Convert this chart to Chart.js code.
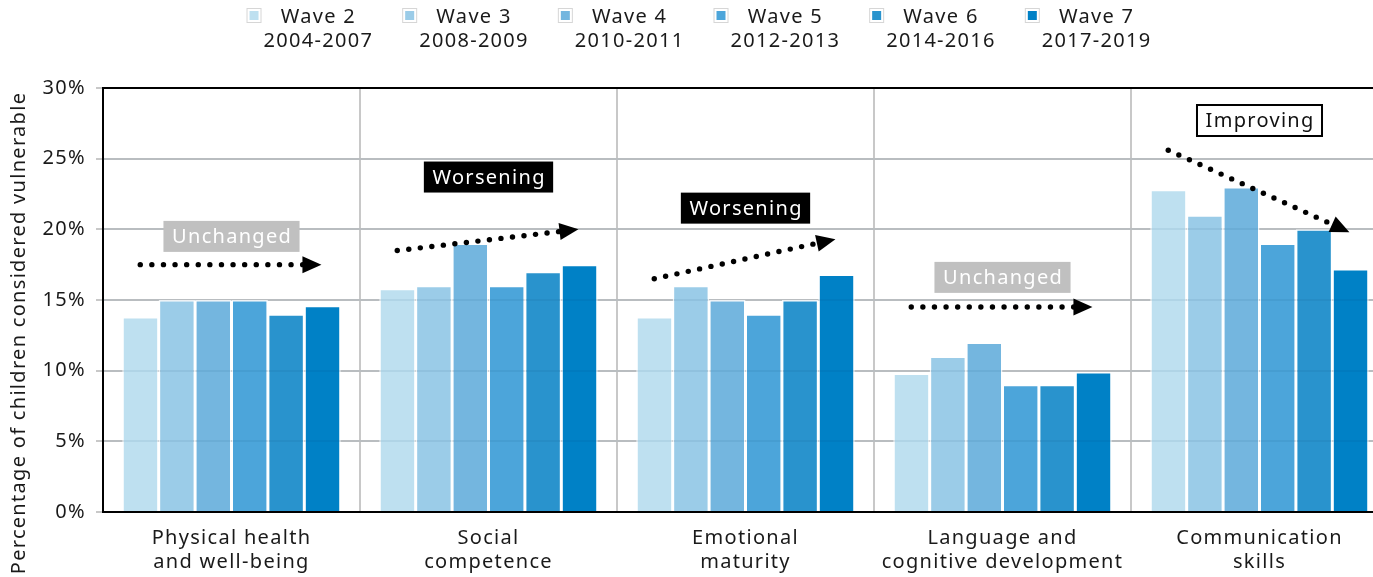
<!DOCTYPE html>
<html>
<head>
<meta charset="utf-8">
<script src="https://cdn.jsdelivr.net/npm/chart.js@4.4.1/dist/chart.umd.min.js"></script>
<style>
  html, body { margin: 0; padding: 0; background: #fff; overflow: hidden; }
  #wrap { position: relative; width: 1390px; height: 577px; }
</style>
</head>
<body>
<div id="wrap"><canvas id="chart"></canvas></div>
<script>
// AEDC-style vulnerability by domain, waves 2-7.

const categories = [
  ['Physical health', 'and well-being'],
  ['Social', 'competence'],
  ['Emotional', 'maturity'],
  ['Language and', 'cognitive development'],
  ['Communication', 'skills']
];
const waveNames = ['Wave 2', 'Wave 3', 'Wave 4', 'Wave 5', 'Wave 6', 'Wave 7'];
const wavePeriods = ['2004-2007', '2008-2009', '2010-2011', '2012-2013', '2014-2016', '2017-2019'];

const wave2 = [13.8, 15.8, 13.8, 9.8, 22.8];
const wave3 = [15.0, 16.0, 16.0, 11.0, 21.0];
const wave4 = [15.0, 19.0, 15.0, 12.0, 23.0];
const wave5 = [15.0, 16.0, 14.0, 9.0, 19.0];
const wave6 = [14.0, 17.0, 15.0, 9.0, 20.0];
const wave7 = [14.6, 17.5, 16.8, 9.9, 17.2];

const yTicks = [0, 5, 10, 15, 20, 25, 30];
const yTitle = 'Percentage of children considered vulnerable';

// trend arrows per domain (values in %)
const trendLabels = ['Unchanged', 'Worsening', 'Worsening', 'Unchanged', 'Improving'];
const trendFrom = [17.5, 18.5, 16.5, 14.5, 25.6];
const trendTo = [17.5, 20.0, 19.3, 14.5, 19.8];
const trendLabelAt = [19.5, 23.7, 21.5, 16.6, 27.7];

const COLORS = ['#bee0f0', '#9bcce8', '#74b6df', '#4ca5da', '#2993cd', '#0081c6'];
const TREND_STYLE = {
  Unchanged: { fill: '#c0c0c0', text: '#ffffff', stroke: null },
  Worsening: { fill: '#000000', text: '#ffffff', stroke: null },
  Improving: { fill: '#ffffff', text: '#111111', stroke: '#000000' }
};
const FONT = '"Noto Sans", "Open Sans", sans-serif';
const SPACING = '1.3px';
const GRID = '#c8c8c8';

const series = [wave2, wave3, wave4, wave5, wave6, wave7];

function drawArrow(ctx, x1, y1, x2, y2) {
  const dx = x2 - x1, dy = y2 - y1;
  const len = Math.sqrt(dx * dx + dy * dy);
  const ux = dx / len, uy = dy / len;
  const head = 19, half = 8.5, step = 11.6;
  ctx.fillStyle = '#000';
  for (let d = 0; d <= len - head + 2; d += step) {
    ctx.beginPath();
    ctx.arc(x1 + ux * d, y1 + uy * d, 2.7, 0, Math.PI * 2);
    ctx.fill();
  }
  const bx = x2 - ux * head, by = y2 - uy * head;
  ctx.beginPath();
  ctx.moveTo(x2, y2);
  ctx.lineTo(bx - uy * half, by + ux * half);
  ctx.lineTo(bx + uy * half, by - ux * half);
  ctx.closePath();
  ctx.fill();
}

const extras = {
  id: 'extras',
  beforeUpdate(chart) { chart.ctx.letterSpacing = SPACING; },
  beforeDraw(chart) { chart.ctx.letterSpacing = SPACING; },
  afterDatasetsDraw(chart) {
    const ctx = chart.ctx, x = chart.scales.x, y = chart.scales.y;
    const cw = (x.right - x.left) / categories.length;
    ctx.save();
    // faint grid showing through the bars
    ctx.strokeStyle = 'rgba(0, 60, 100, 0.07)'; ctx.lineWidth = 2;
    yTicks.slice(1, -1).forEach(v => {
      const py = Math.round(y.getPixelForValue(v));
      ctx.beginPath(); ctx.moveTo(x.left, py); ctx.lineTo(x.right, py); ctx.stroke();
    });
    // trend annotations
    trendLabels.forEach((lab, i) => {
      const cx = x.getPixelForValue(i);
      drawArrow(ctx, cx - 0.355 * cw, y.getPixelForValue(trendFrom[i]),
                cx + 0.35 * cw, y.getPixelForValue(trendTo[i]));
      const st = TREND_STYLE[lab];
      ctx.font = '20px ' + FONT;
      const tw = ctx.measureText(lab).width;
      const bw = tw + 16, bh = 31;
      const ly = y.getPixelForValue(trendLabelAt[i]);
      ctx.fillStyle = st.fill;
      ctx.fillRect(cx - bw / 2, ly - bh / 2, bw, bh);
      if (st.stroke) {
        ctx.strokeStyle = st.stroke; ctx.lineWidth = 2;
        ctx.strokeRect(cx - bw / 2, ly - bh / 2, bw, bh);
      }
      ctx.fillStyle = st.text;
      ctx.textAlign = 'center'; ctx.textBaseline = 'middle';
      ctx.fillText(lab, cx + 0.6, ly + 1);
    });
    ctx.restore();
  },
  afterDraw(chart) {
    const ctx = chart.ctx;
    ctx.save();
    // legend
    ctx.font = '20px ' + FONT;
    const widths = waveNames.map((n, i) => Math.max(ctx.measureText(n).width, ctx.measureText(wavePeriods[i]).width));
    const gap = 29, boxGap = 17;
    const total = widths.reduce((s, w) => s + boxGap + w + gap, 0) - gap;
    let lx = 699 - total / 2;
    waveNames.forEach((n, i) => {
      ctx.fillStyle = '#fff'; ctx.strokeStyle = '#d6d6d6'; ctx.lineWidth = 1;
      ctx.fillRect(lx, 8, 15, 15); ctx.strokeRect(lx + 0.5, 8.5, 14, 14);
      ctx.fillStyle = COLORS[i];
      ctx.fillRect(lx + 3, 11, 9, 9);
      const tc = lx + boxGap + widths[i] / 2;
      ctx.fillStyle = '#1a1a1a'; ctx.textAlign = 'center'; ctx.textBaseline = 'middle';
      ctx.fillText(n, tc, 17);
      ctx.fillText(wavePeriods[i], tc, 41);
      lx += boxGap + widths[i] + gap;
    });
    // y axis title
    ctx.translate(19, 333);
    ctx.rotate(-Math.PI / 2);
    ctx.font = '20px ' + FONT;
    ctx.fillText(yTitle, 0, 0);
    ctx.restore();
  }
};

new Chart(document.getElementById('chart'), {
  type: 'bar',
  data: {
    labels: categories,
    datasets: series.map((d, i) => ({
      label: waveNames[i] + ' ' + wavePeriods[i],
      data: d,
      backgroundColor: COLORS[i],
      borderColor: '#ffffff',
      borderWidth: 1.5,
      categoryPercentage: 0.85,
      barPercentage: 1.0
    }))
  },
  options: {
    responsive: true,
    maintainAspectRatio: false,
    animation: false,
    layout: { padding: { top: 88, right: 2, left: 0, bottom: 0 } },
    plugins: { legend: { display: false }, tooltip: { enabled: false } },
    scales: {
      x: {
        afterFit: s => { s.height = 65; },
        grid: { color: GRID, lineWidth: 2, drawTicks: false },
        border: { color: '#000', width: 2 },
        ticks: { color: '#1a1a1a', padding: 14, font: { family: FONT, size: 20, lineHeight: 1.2 } }
      },
      y: {
        min: 0, max: 30,
        afterFit: s => { s.width = 103; },
        afterBuildTicks: s => { s.ticks = yTicks.map(v => ({ value: v })); },
        grid: {
          color: c => c.tick && c.tick.value === 30 ? '#000' : GRID,
          lineWidth: 2, tickLength: 7, tickColor: GRID
        },
        border: { color: '#000', width: 2 },
        ticks: { color: '#1a1a1a', padding: 10, font: { family: FONT, size: 20 }, callback: v => v + '%' }
      }
    }
  },
  plugins: [extras]
});
</script>
</body>
</html>
